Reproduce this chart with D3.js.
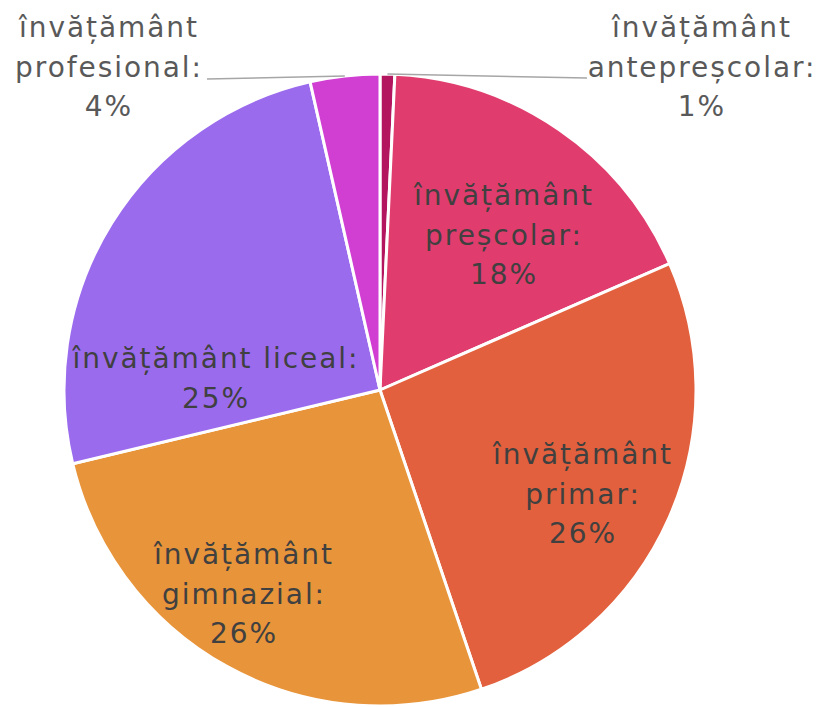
<!DOCTYPE html>
<html>
<head>
<meta charset="utf-8">
<script src="https://cdn.jsdelivr.net/npm/d3@7"></script>
<style>
  html, body { margin: 0; padding: 0; background: #fff; }
  svg { display: block; }
</style>
</head>
<body>
<svg id="chart" width="826" height="707"></svg>
<script>
// ---- data ----
const categories = [
  "învățământ antepreșcolar",
  "învățământ preșcolar",
  "învățământ primar",
  "învățământ gimnazial",
  "învățământ liceal",
  "învățământ profesional"
];
const values = [0.75, 17.7, 26.35, 26.45, 25.2, 3.55];
const labelLines = [
  ["învățământ", "antepreșcolar:"],
  ["învățământ", "preșcolar:"],
  ["învățământ", "primar:"],
  ["învățământ", "gimnazial:"],
  ["învățământ liceal:"],
  ["învățământ", "profesional:"]
];
const colors = ["#B3155F", "#E03D6E", "#E2603D", "#E8943B", "#9B6BEE", "#D13ED2"];

// ---- layout ----
const cx = 380, cy = 390, R = 316;
const lineH = 39.5;
const fontSize = 28;
// label anchor: center x, first baseline y; outside = leader line needed
const labelLayout = [
  { x: 702, y: 37, outside: true, lineEnd: [587, 78] },
  { x: 504, y: 205 },
  { x: 583, y: 464 },
  { x: 244, y: 564 },
  { x: 216, y: 368 },
  { x: 109, y: 37, outside: true, lineEnd: [207, 79] }
];

const svg = d3.select("#chart");
const g = svg.append("g").attr("transform", `translate(${cx},${cy})`);

const total = d3.sum(values);
const pie = d3.pie().sort(null).value(d => d)(values);
const arc = d3.arc().innerRadius(0).outerRadius(R);

g.selectAll("path.slice")
  .data(pie)
  .join("path")
  .attr("class", "slice")
  .attr("d", arc)
  .attr("fill", (d, i) => colors[i])
  .attr("stroke", "#fff")
  .attr("stroke-width", 3)
  .attr("stroke-linejoin", "round");

// leader lines
const outerArc = d3.arc().innerRadius(R).outerRadius(R);
pie.forEach((d, i) => {
  const L = labelLayout[i];
  if (!L.outside) return;
  const p = outerArc.centroid(d);
  svg.append("line")
    .attr("x1", cx + p[0]).attr("y1", cy + p[1])
    .attr("x2", L.lineEnd[0]).attr("y2", L.lineEnd[1])
    .attr("stroke", "#A6A6A6")
    .attr("stroke-width", 1.5);
});

// labels
const pctFmt = v => Math.round(v / total * 100) + "%";
const labels = svg.append("g")
  .attr("font-family", "'DejaVu Sans', sans-serif")
  .attr("font-size", fontSize)
  .attr("text-anchor", "middle");

pie.forEach((d, i) => {
  const L = labelLayout[i];
  const lines = labelLines[i].concat([pctFmt(values[i])]);
  const t = labels.append("text")
    .attr("class", "lbl")
    .attr("fill", L.outside ? "#595959" : "#404040");
  lines.forEach((s, k) => {
    t.append("tspan")
      .attr("x", L.x)
      .attr("y", L.y + k * lineH)
      .text(s);
  });
});

// widen letter spacing to emulate the wider original face
const probe = labels.append("text").text("învățământ");
const w = probe.node().getComputedTextLength();
probe.remove();
const target = 180;
const ls = (target - w) / 10;
labels.selectAll("text.lbl").attr("letter-spacing", ls.toFixed(2));
</script>
</body>
</html>
